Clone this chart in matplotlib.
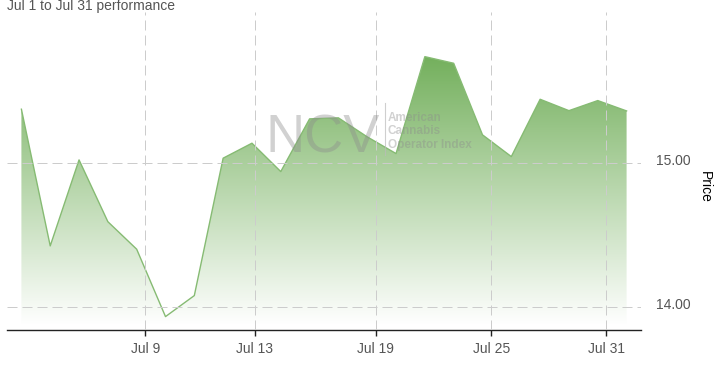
import matplotlib.pyplot as plt
import matplotlib.transforms as mtransforms
import numpy as np
from matplotlib.colors import LinearSegmentedColormap
from matplotlib.lines import Line2D

plt.rcParams['font.family'] = ['Liberation Sans', 'DejaVu Sans']

# trading days of July, one point per session
days = np.arange(22)
prices = [15.375, 14.426, 15.023, 14.594, 14.403, 13.935, 14.081, 15.035,
          15.139, 14.942, 15.308, 15.315, 15.183, 15.067, 15.740, 15.694,
          15.197, 15.046, 15.444, 15.365, 15.435, 15.363]
tick_pos = [4.3, 8.1, 12.3, 16.3, 20.3]
tick_labels = ['Jul 9', 'Jul 13', 'Jul 19', 'Jul 25', 'Jul 31']
price_ticks = [14, 15]
price_labels = ['14.00', '15.00']

W, H = 719, 365
fig = plt.figure(figsize=(W / 100, H / 100), dpi=100)
ax = fig.add_axes([7 / W, 1 - 330 / H, 634 / W, 318 / H])

y0, y1 = 13.842, 16.05

# gradient fill under the line
poly = ax.fill_between(days, prices, y0, color='none', lw=0)
cmap = LinearSegmentedColormap.from_list('g', ['#ffffff', '#74b05d'])
grad = np.linspace(0, 1, 256).reshape(-1, 1)
img = ax.imshow(grad, cmap=cmap, aspect='auto', origin='lower',
                extent=[-0.5, 21.5, 13.88, max(prices)], zorder=1)
img.set_clip_path(poly.get_paths()[0], transform=ax.transData)
ax.plot(days, prices, color='#86bb73', lw=1, zorder=2)

ax.set_xlim(-0.5, 21.5)
ax.set_ylim(y0, y1)

for s in ['top', 'left', 'right']:
    ax.spines[s].set_visible(False)
ax.spines['bottom'].set_color('#222222')
ax.spines['bottom'].set_linewidth(1)

ax.set_axisbelow(False)
ax.set_xticks(tick_pos)
ax.set_xticklabels(tick_labels)
ax.set_yticks(price_ticks)
ax.set_yticklabels(price_labels)
ax.yaxis.tick_right()
ax.tick_params(axis='x', length=4.5, width=1, color='#222222', pad=4,
               labelsize=10, labelcolor='#555555')
ax.tick_params(axis='y', length=0, pad=11, labelsize=10, labelcolor='#555555')
ax.grid(True, color='#cccccc', lw=0.72, linestyle=(0, (10, 5)))

# labels sit a few pixels above their grid line
shift = mtransforms.ScaledTranslation(0, 4 / 100, fig.dpi_scale_trans)
for lab in ax.get_yticklabels():
    lab.set_transform(lab.get_transform() + shift)

fig.text(7 / W, 1 - 6 / H, 'Jul 1 to Jul 31 performance', fontsize=10,
         color='#555555', ha='left', va='center')
fig.text(705 / W, 1 - 187 / H, 'Price', fontsize=10, color='black',
         rotation=270, ha='center', va='center')

# watermark
fig.text(266 / W, 1 - 152 / H, 'NCV', fontsize=39, color='#8c8c8c', alpha=0.4,
         ha='left', va='baseline', zorder=5)
fig.add_artist(Line2D([385 / W, 385 / W], [1 - 103 / H, 1 - 155 / H],
                      color='#bbbbbb', lw=0.8, alpha=0.7))
for i, t in enumerate(['American', 'Cannabis', 'Operator Index']):
    fig.text(388 / W, 1 - (121 + 13.3 * i) / H, t, fontsize=8.5,
             fontweight='bold', color='#8c8c8c', alpha=0.4,
             ha='left', va='baseline', zorder=5)

fig.savefig('out.png', dpi=100)
